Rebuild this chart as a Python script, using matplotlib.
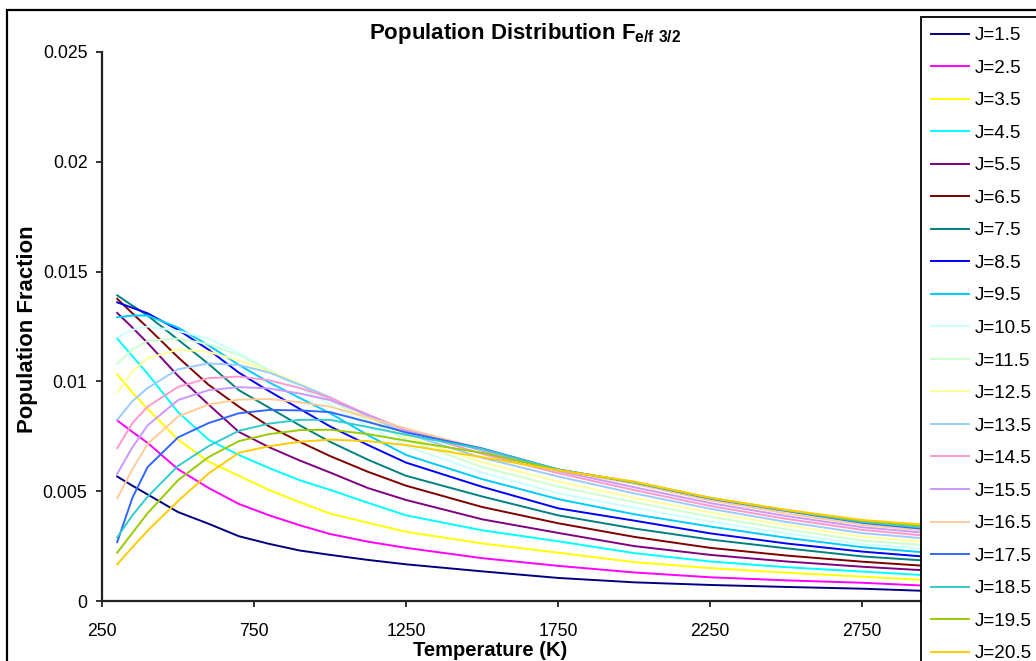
import matplotlib
matplotlib.use("Agg")
import matplotlib.pyplot as plt
from matplotlib.patches import Rectangle

plt.rcParams["font.family"] = ["Liberation Sans", "DejaVu Sans"]
plt.rcParams["mathtext.fontset"] = "custom"
plt.rcParams["mathtext.rm"] = "Liberation Sans"
plt.rcParams["mathtext.bf"] = "Liberation Sans:bold"

# temperature grid (K)
temps = [300, 350, 400, 500, 600, 700, 800, 900, 1000, 1125, 1250, 1500, 1750, 2000, 2250, 2500, 2750, 3000]

# population fraction, in units of 1e-3
j1_5 = [5.67, 5.25, 4.85, 4.05, 3.52, 2.95, 2.6, 2.3, 2.1, 1.87, 1.67, 1.35, 1.05, 0.85, 0.73, 0.64, 0.56, 0.44]
j2_5 = [8.22, 7.7, 7.2, 6.0, 5.15, 4.42, 3.9, 3.45, 3.05, 2.7, 2.42, 1.95, 1.6, 1.3, 1.08, 0.94, 0.83, 0.67]
j3_5 = [10.32, 9.5, 8.75, 7.35, 6.35, 5.7, 5.05, 4.5, 3.98, 3.56, 3.15, 2.62, 2.2, 1.77, 1.5, 1.29, 1.11, 0.92]
j4_5 = [11.95, 11.15, 10.35, 8.6, 7.35, 6.65, 6.05, 5.5, 5.06, 4.47, 3.9, 3.22, 2.72, 2.18, 1.8, 1.54, 1.34, 1.14]
j5_5 = [13.12, 12.45, 11.75, 10.25, 8.95, 7.7, 7.0, 6.4, 5.85, 5.14, 4.6, 3.72, 3.1, 2.5, 2.1, 1.8, 1.56, 1.36]
j6_5 = [13.76, 13.1, 12.45, 11.1, 9.85, 8.85, 7.95, 7.25, 6.6, 5.88, 5.25, 4.28, 3.54, 2.92, 2.42, 2.07, 1.79, 1.56]
j7_5 = [13.92, 13.45, 13.0, 11.9, 10.8, 9.6, 8.8, 8.0, 7.25, 6.43, 5.7, 4.76, 3.9, 3.3, 2.8, 2.4, 2.03, 1.8]
j8_5 = [13.6, 13.35, 13.1, 12.35, 11.45, 10.4, 9.55, 8.75, 7.95, 7.1, 6.3, 5.2, 4.22, 3.66, 3.08, 2.62, 2.25, 1.97]
j9_5 = [12.92, 13.0, 13.0, 12.45, 11.65, 10.75, 9.95, 9.25, 8.55, 7.55, 6.65, 5.55, 4.64, 3.95, 3.39, 2.88, 2.45, 2.16]
j10_5 = [12.01, 12.35, 12.5, 12.3, 11.95, 11.3, 10.5, 9.7, 8.95, 7.95, 7.05, 5.85, 4.91, 4.25, 3.62, 3.08, 2.59, 2.33]
j11_5 = [10.81, 11.45, 11.85, 11.95, 11.7, 11.2, 10.5, 9.85, 9.15, 8.22, 7.35, 6.1, 5.21, 4.5, 3.84, 3.27, 2.75, 2.5]
j12_5 = [9.5, 10.45, 11.05, 11.45, 11.35, 10.95, 10.45, 9.9, 9.25, 8.35, 7.5, 6.32, 5.44, 4.7, 4.03, 3.45, 2.93, 2.65]
j13_5 = [8.25, 9.1, 9.7, 10.55, 10.82, 10.75, 10.4, 9.85, 9.28, 8.42, 7.62, 6.52, 5.67, 4.9, 4.2, 3.6, 3.09, 2.8]
j14_5 = [6.96, 8.1, 8.85, 9.75, 10.15, 10.22, 10.05, 9.7, 9.25, 8.48, 7.75, 6.7, 5.82, 5.05, 4.33, 3.74, 3.24, 2.92]
j15_5 = [5.79, 7.0, 8.0, 9.15, 9.6, 9.74, 9.68, 9.45, 9.15, 8.47, 7.8, 6.85, 5.92, 5.18, 4.46, 3.87, 3.36, 3.05]
j16_5 = [4.68, 6.0, 7.15, 8.4, 8.95, 9.17, 9.2, 9.05, 8.85, 8.36, 7.85, 6.92, 5.97, 5.33, 4.58, 3.99, 3.47, 3.15]
j17_5 = [2.68, 4.7, 6.1, 7.45, 8.1, 8.55, 8.7, 8.68, 8.6, 8.15, 7.68, 6.95, 5.99, 5.4, 4.66, 4.1, 3.56, 3.22]
j18_5 = [2.9, 3.9, 4.75, 6.15, 7.05, 7.75, 8.08, 8.25, 8.25, 7.92, 7.57, 6.92, 5.99, 5.4, 4.68, 4.12, 3.6, 3.28]
j19_5 = [2.2, 3.1, 4.0, 5.5, 6.55, 7.28, 7.6, 7.78, 7.8, 7.6, 7.3, 6.75, 5.97, 5.42, 4.7, 4.14, 3.65, 3.37]
j20_5 = [1.67, 2.45, 3.2, 4.55, 5.8, 6.75, 7.05, 7.25, 7.35, 7.28, 7.1, 6.55, 5.95, 5.44, 4.7, 4.15, 3.69, 3.43]

series = [j1_5, j2_5, j3_5, j4_5, j5_5, j6_5, j7_5, j8_5, j9_5, j10_5,
          j11_5, j12_5, j13_5, j14_5, j15_5, j16_5, j17_5, j18_5, j19_5, j20_5]
labels = ["J=1.5", "J=2.5", "J=3.5", "J=4.5", "J=5.5", "J=6.5", "J=7.5", "J=8.5", "J=9.5", "J=10.5",
          "J=11.5", "J=12.5", "J=13.5", "J=14.5", "J=15.5", "J=16.5", "J=17.5", "J=18.5", "J=19.5", "J=20.5"]
colors = ["#000080", "#FF00FF", "#FFFF00", "#00FFFF", "#800080", "#800000", "#008080", "#0000FF",
          "#00CCFF", "#CCFFFF", "#CCFFCC", "#FFFF99", "#99CCFF", "#FF99CC", "#CC99FF", "#FFCC99",
          "#3366FF", "#33CCCC", "#99CC00", "#FFCC00"]

W, H = 1036, 661
fig = plt.figure(figsize=(W / 100, H / 100), dpi=100)
ax = fig.add_axes([102 / W, (H - 601) / H, (921 - 102) / W, (601 - 52) / H])

lines = []
for vals, lab, col in zip(series, labels, colors):
    ln, = ax.plot(temps, [v / 1000 for v in vals], color=col, lw=1.4, label=lab)
    lines.append(ln)

ax.set_xlim(250, 2943)
ax.set_ylim(0, 0.025)
ax.set_xticks([250, 750, 1250, 1750, 2250, 2750])
ax.set_yticks([0, 0.005, 0.01, 0.015, 0.02, 0.025])
ax.set_yticklabels(["0", "0.005", "0.01", "0.015", "0.02", "0.025"])
for s in ["top", "right"]:
    ax.spines[s].set_visible(False)
for s in ["left", "bottom"]:
    ax.spines[s].set_linewidth(1.6)
    ax.spines[s].set_color("#222222")
ax.tick_params(direction="out", length=4.5, width=1.3, color="#222222", labelsize=12.7)
ax.tick_params(axis="x", pad=11)
ax.tick_params(axis="y", pad=6)

fig.text(490 / W, 1 - 651 / H, "Temperature (K)", fontsize=14.5, fontweight="bold", ha="center", va="center")
fig.text(27.5 / W, 1 - 329.5 / H, "Population Fraction", fontsize=15.9, fontweight="bold",
         rotation=90, ha="center", va="center")
fig.text(525 / W, 1 - 34 / H, r"Population Distribution F$_{\mathbf{e/f\ 3/2}}$", fontsize=16,
         fontweight="bold", ha="center", va="center")

# chart area border (partly off canvas)
fig.patches.append(Rectangle((7 / W, -0.5), 2, 1 - 10 / H + 0.5, transform=fig.transFigure,
                             fill=False, edgecolor="black", lw=1.6))

# legend runs off the right and bottom edges, as in the original
leg = fig.legend(handles=lines, loc="upper left", bbox_to_anchor=(921 / W, 1 - 16.7 / H),
                 bbox_transform=fig.transFigure, frameon=True, fancybox=False, framealpha=1,
                 edgecolor="black", fontsize=13.6, borderpad=0.55, borderaxespad=0,
                 handlelength=2.0, handletextpad=0.27, labelspacing=0.81)
leg.get_frame().set_linewidth(1.3)

fig.savefig("out.png", dpi=100)
